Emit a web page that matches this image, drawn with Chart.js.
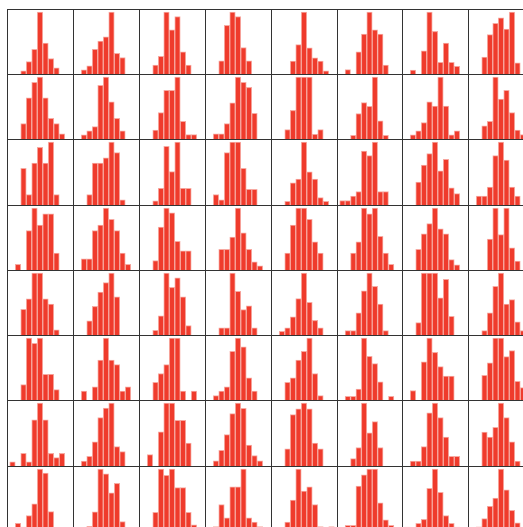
<!DOCTYPE html>
<html>
<head>
<meta charset="utf-8">
<script src="https://cdn.jsdelivr.net/npm/chart.js@4.4.1/dist/chart.umd.min.js"></script>
<style>
  html, body { margin: 0; padding: 0; background: #fff; }
  body { width: 523px; height: 527px; overflow: hidden; position: relative; }
  .cell { position: absolute; }
  .frame { position: absolute; border: 1px solid #333; box-sizing: border-box; pointer-events: none; }
</style>
</head>
<body>
<script>
// bin positions 0..12, histogram counts sit on bins 1..11
var binLabels = ['0','1','2','3','4','5','6','7','8','9','10','11','12'];

// counts per subplot (50 samples each), one list per row of the grid
var row1Counts = [
  [0,0,1,4,8,20,10,5,2,0,0],
  [0,1,2,6,8,9,15,5,4,0,0],
  [0,0,2,4,14,10,13,5,2,0,0],
  [0,0,3,11,14,13,6,3,0,0,0],
  [0,0,0,4,9,19,8,5,4,1,0],
  [0,1,0,5,9,14,10,9,2,0,0],
  [0,1,0,6,16,11,3,8,3,2,0],
  [0,0,3,7,9,10,8,11,2,0,0]
];
var row2Counts = [
  [0,0,3,8,11,12,8,4,3,1,0],
  [0,1,2,3,13,15,9,5,2,0,0],
  [0,0,2,6,11,11,14,4,1,1,0],
  [0,1,1,3,7,12,11,10,5,0,0],
  [0,0,2,6,13,13,13,1,2,0,0],
  [0,0,1,7,10,9,17,5,1,0,0],
  [0,1,2,4,9,8,15,8,1,2,0],
  [0,0,3,4,14,9,11,6,2,1,0]
];
var row3Counts = [
  [0,0,7,2,8,11,8,12,2,0,0],
  [0,0,2,8,8,9,12,10,1,0,0],
  [0,0,1,4,14,8,15,4,4,0,0],
  [0,2,1,10,12,12,7,3,3,0,0],
  [0,0,1,6,7,17,9,7,2,1,0],
  [1,1,2,3,12,11,14,3,3,0,0],
  [0,0,4,7,9,11,6,8,3,2,0],
  [0,2,2,4,11,14,10,4,2,0,0]
];
var row4Counts = [
  [0,1,0,7,11,8,10,10,3,0,0],
  [0,2,2,7,8,11,9,7,3,1,0],
  [0,0,2,9,13,12,6,4,4,0,0],
  [0,0,5,5,8,15,9,5,2,1,0],
  [0,0,3,8,11,11,9,5,3,0,0],
  [0,0,3,5,11,10,11,6,3,1,0],
  [0,0,4,7,9,12,8,7,2,1,0],
  [0,0,0,7,14,8,14,5,2,0,0]
];
var row5Counts = [
  [0,0,5,7,12,12,7,6,1,0,0],
  [0,0,3,6,9,11,13,8,0,0,0],
  [0,0,1,4,13,10,12,8,2,0,0],
  [0,0,2,2,17,12,7,8,2,0,0],
  [0,1,2,5,10,17,9,4,2,0,0],
  [0,1,1,5,10,14,11,7,1,0,0],
  [0,0,2,10,10,10,6,9,3,0,0],
  [0,0,1,5,11,14,7,8,3,1,0]
];
var row6Counts = [
  [0,0,3,12,11,12,5,5,2,0,0],
  [0,2,0,3,9,14,9,8,2,3,0],
  [0,0,4,6,8,14,14,2,0,2,0],
  [0,1,2,3,11,14,12,5,2,0,0],
  [0,0,4,5,9,11,14,6,1,0,0],
  [0,1,1,3,17,12,10,5,0,1,0],
  [0,2,0,8,13,10,7,5,5,0,0],
  [0,0,4,6,10,10,7,8,3,2,0]
];
var row7Counts = [
  [1,0,3,1,11,15,11,3,2,3,0],
  [0,1,2,5,10,12,13,4,3,0,0],
  [0,2,0,6,11,11,8,8,4,0,0],
  [0,1,3,6,10,12,11,4,2,1,0],
  [0,0,3,9,10,11,10,4,3,0,0],
  [0,0,2,5,17,9,12,5,0,0,0],
  [0,1,1,4,11,13,10,6,2,2,0],
  [0,0,7,6,8,13,10,5,1,0,0]
];
var row8Counts = [
  [0,2,1,4,7,16,15,5,0,0,0],
  [0,0,1,4,13,12,8,10,2,0,0],
  [0,0,3,10,9,10,7,7,3,1,0],
  [0,1,6,3,10,10,14,3,2,1,0],
  [0,0,2,7,14,9,10,6,1,0,1],
  [0,1,1,8,10,11,11,5,2,1,0],
  [1,0,2,3,11,16,10,4,2,1,0],
  [0,1,3,6,8,15,10,5,2,0,0]
];

var grid = [row1Counts, row2Counts, row3Counts, row4Counts,
            row5Counts, row6Counts, row7Counts, row8Counts];

var left0 = 7.3, top0 = 8.7, cellW = 65.86, cellH = 65.3;

window.onload = function () {
  grid.forEach(function (row, r) {
    row.forEach(function (counts, c) {
      var x = Math.round(left0 + c * cellW);
      var y = Math.round(top0 + r * cellH);
      var w = Math.round(left0 + (c + 1) * cellW) - x;
      var h = Math.round(top0 + (r + 1) * cellH) - y;

      var box = document.createElement('div');
      box.className = 'cell';
      box.style.left = x + 'px';
      box.style.top = y + 'px';
      box.style.width = w + 'px';
      box.style.height = h + 'px';
      var cv = document.createElement('canvas');
      box.appendChild(cv);
      document.body.appendChild(box);

      var fr = document.createElement('div');
      fr.className = 'frame';
      fr.style.left = x + 'px';
      fr.style.top = y + 'px';
      fr.style.width = (w + 1) + 'px';
      fr.style.height = (h + 1) + 'px';
      document.body.appendChild(fr);

      var vals = [null].concat(counts.map(function (v) { return v || null; })).concat([null]);
      var top = Math.max.apply(null, counts) * 1.05;

      new Chart(cv.getContext('2d'), {
        type: 'bar',
        data: {
          labels: binLabels,
          datasets: [{
            data: vals,
            backgroundColor: '#ef3b2c',
            borderColor: '#f7aaa2',
            borderWidth: 1,
            barPercentage: 1,
            categoryPercentage: 1
          }]
        },
        options: {
          responsive: true,
          maintainAspectRatio: false,
          animation: false,
          layout: { padding: 0 },
          plugins: { legend: { display: false }, tooltip: { enabled: false } },
          scales: {
            x: { display: false, offset: false },
            y: { display: false, min: 0, max: top }
          }
        }
      });
    });
  });
};
</script>
</body>
</html>
